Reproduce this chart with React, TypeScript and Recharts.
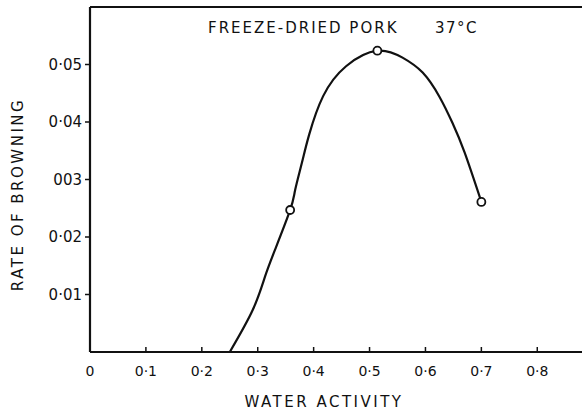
import {
  ComposedChart,
  Line,
  Scatter,
  XAxis,
  YAxis,
  ReferenceLine,
} from "recharts";

// curve (water activity vs. rate)
const curveAw = [0.25, 0.291, 0.313, 0.331, 0.358, 0.367, 0.379, 0.392, 0.417, 0.458, 0.514, 0.559, 0.595, 0.625, 0.648, 0.67, 0.7];
const curveRate = [0, 0.0073, 0.0131, 0.0178, 0.0247, 0.0282, 0.0329, 0.0378, 0.0445, 0.0497, 0.0524, 0.0512, 0.0486, 0.0444, 0.0399, 0.0347, 0.0261];

// measured points (open circles)
const pointAw = [0.358, 0.514, 0.7];
const pointRate = [0.0247, 0.0524, 0.0261];

const xTicks = [0, 0.1, 0.2, 0.3, 0.4, 0.5, 0.6, 0.7, 0.8];
const xTickLabels = ["0", "0·1", "0·2", "0·3", "0·4", "0·5", "0·6", "0·7", "0·8"];
const yTicks = [0.01, 0.02, 0.03, 0.04, 0.05];
const yTickLabels = ["0·01", "0·02", "003", "0·04", "0·05"];

const curve = curveAw.map((aw, i) => ({ aw, rate: curveRate[i] }));
const points = pointAw.map((aw, i) => ({ aw, rate: pointRate[i] }));

const FONT = "'DejaVu Sans', sans-serif";
const INK = "#111";

const OpenCircle = (props: any) => {
  const { cx, cy } = props;
  return <circle cx={cx} cy={cy} r={4} fill="#fff" stroke={INK} strokeWidth={1.8} />;
};

export default function App() {
  return (
    <div style={{ position: "absolute", left: 0, top: 0, width: 582, height: 413, background: "#fff" }}>
      <ComposedChart
        width={582}
        height={413}
        margin={{ top: 7, right: 0, left: 0, bottom: 0 }}
        style={{ fontFamily: FONT }}
      >
        <XAxis
          type="number"
          dataKey="aw"
          domain={[0, 0.88]}
          ticks={xTicks}
          tickFormatter={(v: number) => xTickLabels[xTicks.indexOf(v)] ?? ""}
          height={61}
          tickSize={-5}
          tickMargin={19}
          axisLine={{ stroke: INK, strokeWidth: 2.2 }}
          tickLine={{ stroke: INK, strokeWidth: 1.5 }}
          tick={{ fill: INK, fontSize: 14, fontFamily: FONT }}
          allowDataOverflow
          label={{
            value: "WATER ACTIVITY",
            position: "insideBottom",
            offset: 6,
            fill: INK,
            fontSize: 15,
            fontFamily: FONT,
            letterSpacing: 2.5,
            dx: -12,
          }}
        />
        <YAxis
          type="number"
          dataKey="rate"
          domain={[0, 0.06]}
          ticks={yTicks}
          tickFormatter={(v: number) => yTickLabels[yTicks.indexOf(v)] ?? ""}
          width={90}
          tickSize={5}
          tickMargin={3}
          axisLine={{ stroke: INK, strokeWidth: 2.2 }}
          tickLine={{ stroke: INK, strokeWidth: 1.5 }}
          tick={{ fill: INK, fontSize: 15, fontFamily: FONT }}
          allowDataOverflow
          label={{
            value: "RATE OF BROWNING",
            angle: -90,
            position: "insideLeft",
            offset: 18,
            dy: 15,
            fill: INK,
            fontSize: 15,
            fontFamily: FONT,
            letterSpacing: 2.5,
            style: { textAnchor: "middle" },
          }}
        />
        <ReferenceLine y={0.06} stroke={INK} strokeWidth={2.2} ifOverflow="extendDomain" />
        <Line
          data={curve}
          dataKey="rate"
          type="natural"
          stroke={INK}
          strokeWidth={2.2}
          dot={false}
          activeDot={false}
          isAnimationActive={false}
        />
        <Scatter
          data={points}
          dataKey="rate"
          shape={<OpenCircle />}
          isAnimationActive={false}
        />
        <text x={208} y={33} textAnchor="start" fill={INK} fontSize={15} fontFamily={FONT} letterSpacing={2}>
          FREEZE-DRIED PORK
        </text>
        <text x={435} y={33} textAnchor="start" fill={INK} fontSize={15} fontFamily={FONT} letterSpacing={1.5}>
          37°C
        </text>
      </ComposedChart>
    </div>
  );
}
